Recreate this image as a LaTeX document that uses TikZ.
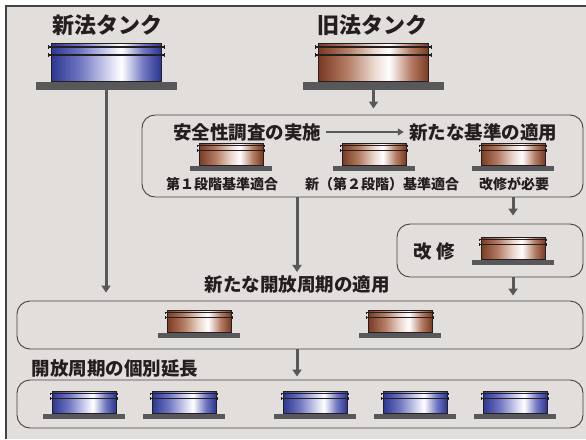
\documentclass[tikz,border=0pt]{standalone}
\usepackage{fontspec}
\newfontfamily\jpfont{Noto Sans CJK JP}
\usetikzlibrary{arrows.meta}
\definecolor{bg}{RGB}{226,222,219}
\definecolor{ink}{RGB}{35,31,32}
\definecolor{plate}{RGB}{88,88,90}
\definecolor{blueD}{RGB}{44,54,146}
\definecolor{blueM}{RGB}{112,118,192}
\definecolor{blueL}{RGB}{204,206,236}
\definecolor{brownD}{RGB}{122,58,34}
\definecolor{brownM}{RGB}{180,124,100}
\definecolor{brownL}{RGB}{234,216,206}
\pgfdeclarehorizontalshading{bluetank}{100bp}{color(0bp)=(blueD); color(25bp)=(blueD);
  color(38bp)=(blueM); color(50bp)=(blueL); color(57bp)=(white); color(67bp)=(blueM);
  color(75bp)=(blueD); color(100bp)=(blueD)}
\pgfdeclarehorizontalshading{browntank}{100bp}{color(0bp)=(brownD); color(25bp)=(brownD);
  color(38bp)=(brownM); color(50bp)=(brownL); color(57bp)=(white); color(67bp)=(brownM);
  color(75bp)=(brownD); color(100bp)=(brownD)}
\tikzset{
  pics/tank/.style={code={
    \fill[plate] (-70.5,0) rectangle (70.5,8);
    \shade[shading=#1,draw=ink,line width=0.8pt] (-55,-39) rectangle (55,-1);
    \foreach \ly in {-35,-27}{
      \draw[ink,line width=1.2pt] (-58,\ly) -- (58,\ly);
      \draw[ink,line width=0.8pt] (-58,\ly-2) -- (-58,\ly+2) (58,\ly-2) -- (58,\ly+2);
    }
    \coordinate (-base) at (0,8);
  }},
  title/.style={font=\jpfont\bfseries\fontsize{22}{22}\selectfont, text=ink, inner sep=0},
  heading/.style={font=\jpfont\bfseries\fontsize{18.5}{18.5}\selectfont, text=ink, inner sep=0},
  tanklabel/.style={font=\jpfont\bfseries\fontsize{14}{14}\selectfont, text=ink, inner sep=0},
  panel/.style={draw=ink!85, line width=0.9pt, rounded corners=13pt, inner sep=0},
  conn/.style={draw=plate, line width=3pt, -{Triangle[width=9pt,length=7pt]}}
}
\begin{document}
\begin{tikzpicture}[x=1pt,y=-1pt]
\useasboundingbox (0,0) rectangle (586,439);
\fill[white] (0,0) rectangle (586,439);
\fill[bg] (6,6) rectangle (586,439);
\draw[ink!85, line width=1.5pt] (6,439) -- (6,6) -- (586,6);

\node[title] (newtitle) at (107,25) {新法タンク};
\node[title] (oldtitle) at (372,25) {旧法タンク};
\pic (newtank) at (106,82) {tank=bluetank};
\pic (oldtank) at (373.5,82) {tank=browntank};

\node[panel, minimum width=441, minimum height=82] (surveybox) at (362.5,156) {};
\node[heading] (survey) at (247,132) {安全性調査の実施};
\node[heading] (newstd) at (483,132) {新たな基準の適用};
\draw[plate, line width=2pt, -{Triangle[width=7pt,length=6pt]}, shorten <=5pt, shorten >=5pt] (survey) -- (newstd);
\pic[scale=0.58] (stage1) at (231,166) {tank=browntank};
\pic[scale=0.58] (stage2) at (374,166) {tank=browntank};
\pic[scale=0.58] (stage3) at (513,166) {tank=browntank};
\node[tanklabel] (lab1) at (222,184) {第１段階基準適合};
\node[tanklabel] (lab2) at (382,184) {新（第２段階）基準適合};
\node[tanklabel] (lab3) at (514,184) {改修が必要};

\node[panel, minimum width=186, minimum height=53] (repairbox) at (490,250.5) {};
\node[heading] (repair) at (434,252) {改\hspace{5pt}修};
\pic[scale=0.58] (repaired) at (513,260) {tank=browntank};

\node[heading] (newcycle) at (297,285) {新たな開放周期の適用};
\node[panel, minimum width=566, minimum height=48] (cyclebox) at (300,325) {};
\pic[scale=0.58] (cycle1) at (199,333) {tank=browntank};
\pic[scale=0.58] (cycle2) at (400,333) {tank=browntank};

\node[heading] (extend) at (115,369) {開放周期の個別延長};
\node[panel, minimum width=566, minimum height=48] (extbox) at (300,404) {};
\foreach \p in {84,184,315,415,515}
  \pic[scale=0.58] (ext\p) at (\p,414) {tank=bluetank};

\draw[conn, shorten >=6pt] (oldtank-base) -- (oldtank-base |- surveybox.north);
\draw[conn, shorten >=8pt] (newtank-base) -- (newtank-base |- cyclebox.north);
\draw[conn, shorten >=4pt] (surveybox.south -| newcycle) -- (newcycle.north);
\draw[conn, shorten >=8pt] (surveybox.south -| stage3-base) -- (stage3-base |- repairbox.north);
\draw[conn, shorten >=5pt] (repairbox.south -| stage3-base) -- (stage3-base |- cyclebox.north);
\draw[conn, shorten >=3pt] (cyclebox.south -| newcycle) -- (newcycle |- extbox.north);
\end{tikzpicture}
\end{document}
